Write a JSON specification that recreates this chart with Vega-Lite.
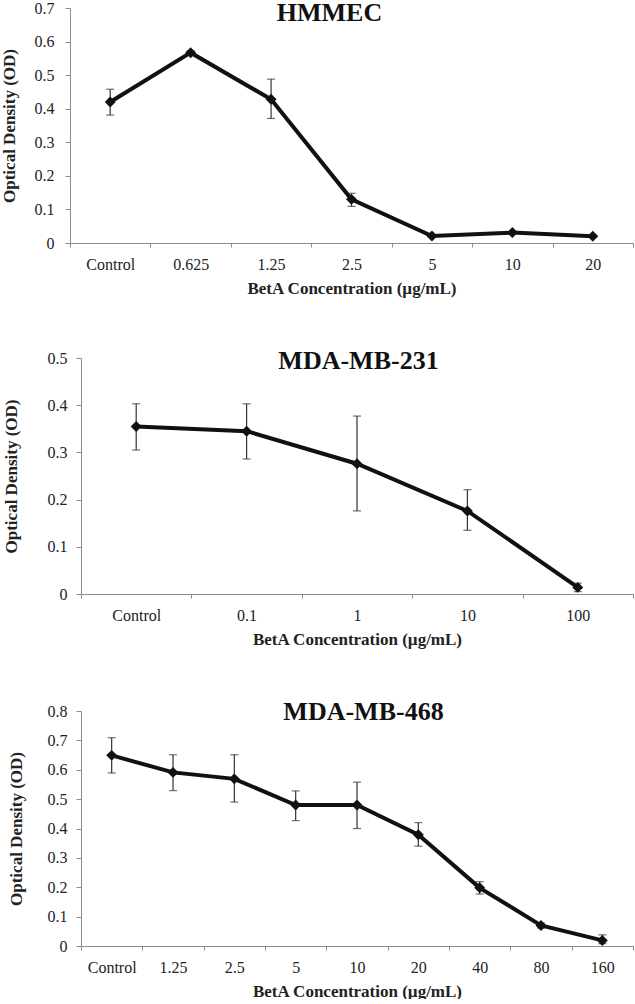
{
  "$schema": "https://vega.github.io/schema/vega-lite/v6.json",
  "background": "white",
  "padding": {"left": 0, "top": 0, "right": 0, "bottom": 0},
  "config": {
    "view": {"stroke": null},
    "font": "Liberation Serif",
    "title": {"font": "Liberation Serif", "fontSize": 26, "fontWeight": "bold", "color": "#111", "baseline": "alphabetic", "frame": "group", "anchor": "middle"}
  },
  "datasets": {
    "hmmec": [
      {"conc": "Control", "od": 0.42, "lo": 0.381, "hi": 0.458},
      {"conc": "0.625", "od": 0.567, "lo": 0.561, "hi": 0.573},
      {"conc": "1.25", "od": 0.428, "lo": 0.371, "hi": 0.488},
      {"conc": "2.5", "od": 0.13, "lo": 0.109, "hi": 0.148},
      {"conc": "5", "od": 0.021, "lo": 0.018, "hi": 0.024},
      {"conc": "10", "od": 0.031, "lo": 0.028, "hi": 0.034},
      {"conc": "20", "od": 0.02, "lo": 0.017, "hi": 0.023}
    ],
    "mb231": [
      {"conc": "Control", "od": 0.355, "lo": 0.305, "hi": 0.403},
      {"conc": "0.1", "od": 0.345, "lo": 0.286, "hi": 0.403},
      {"conc": "1", "od": 0.276, "lo": 0.176, "hi": 0.377},
      {"conc": "10", "od": 0.176, "lo": 0.135, "hi": 0.221},
      {"conc": "100", "od": 0.014, "lo": 0.005, "hi": 0.023}
    ],
    "mb468": [
      {"conc": "Control", "od": 0.649, "lo": 0.589, "hi": 0.709},
      {"conc": "1.25", "od": 0.591, "lo": 0.529, "hi": 0.651},
      {"conc": "2.5", "od": 0.569, "lo": 0.49, "hi": 0.651},
      {"conc": "5", "od": 0.48, "lo": 0.427, "hi": 0.528},
      {"conc": "10", "od": 0.48, "lo": 0.4, "hi": 0.558},
      {"conc": "20", "od": 0.379, "lo": 0.34, "hi": 0.42},
      {"conc": "40", "od": 0.198, "lo": 0.177, "hi": 0.219},
      {"conc": "80", "od": 0.07, "lo": 0.061, "hi": 0.078},
      {"conc": "160", "od": 0.019, "lo": 0.008, "hi": 0.038}
    ]
  },
  "vconcat": [
    {
      "width": 563,
      "height": 235,
      "data": {"name": "hmmec"},
      "title": {"text": "HMMEC", "offset": -26, "dx": -22},
      "encoding": {
        "x": {
          "field": "conc", "type": "ordinal", "sort": null, "bandPosition": 0.5,
          "scale": {"type": "band", "paddingInner": 0, "paddingOuter": 0},
          "axis": {"title": "BetA Concentration (µg/mL)", "labelAngle": 0, "tickBand": "extent", "tickSize": 4, "labelPadding": 9, "titlePadding": 8,
            "labelFont": "Liberation Serif", "titleFont": "Liberation Serif", "labelFontSize": 16, "titleFontSize": 17, "labelColor": "#222", "titleColor": "#222", "titleFontWeight": "bold", "domainColor": "#8c8c8c", "tickColor": "#8c8c8c", "grid": false, "labelOverlap": false}
        }
      },
      "layer": [
        {"mark": {"type": "line", "color": "#111", "strokeWidth": 4},
         "encoding": {"y": {"field": "od", "type": "quantitative",
           "scale": {"domain": [0, 0.7], "nice": false},
           "axis": {"title": "Optical Density (OD)", "values": [0, 0.1, 0.2, 0.3, 0.4, 0.5, 0.6, 0.7], "format": ".1~f", "tickSize": 5, "labelPadding": 11, "titlePadding": 16,
             "labelFont": "Liberation Serif", "titleFont": "Liberation Serif", "labelFontSize": 16, "titleFontSize": 17, "labelColor": "#222", "titleColor": "#222", "titleFontWeight": "bold", "domainColor": "#8c8c8c", "tickColor": "#8c8c8c", "grid": false, "labelOverlap": false, "labelFlush": false}}}},
        {"mark": {"type": "rule", "color": "#333", "strokeWidth": 1.2},
         "encoding": {"y": {"field": "lo", "type": "quantitative",
           "axis": {"title": "Optical Density (OD)", "values": [0, 0.1, 0.2, 0.3, 0.4, 0.5, 0.6, 0.7], "format": ".1~f", "tickSize": 5, "labelPadding": 11, "titlePadding": 16,
             "labelFont": "Liberation Serif", "titleFont": "Liberation Serif", "labelFontSize": 16, "titleFontSize": 17, "labelColor": "#222", "titleColor": "#222", "titleFontWeight": "bold", "domainColor": "#8c8c8c", "tickColor": "#8c8c8c", "grid": false, "labelOverlap": false, "labelFlush": false}}, "y2": {"field": "hi"}}},
        {"mark": {"type": "tick", "color": "#333", "size": 8, "thickness": 1.2}, "encoding": {"y": {"field": "lo", "type": "quantitative",
           "axis": {"title": "Optical Density (OD)", "values": [0, 0.1, 0.2, 0.3, 0.4, 0.5, 0.6, 0.7], "format": ".1~f", "tickSize": 5, "labelPadding": 11, "titlePadding": 16,
             "labelFont": "Liberation Serif", "titleFont": "Liberation Serif", "labelFontSize": 16, "titleFontSize": 17, "labelColor": "#222", "titleColor": "#222", "titleFontWeight": "bold", "domainColor": "#8c8c8c", "tickColor": "#8c8c8c", "grid": false, "labelOverlap": false, "labelFlush": false}}}},
        {"mark": {"type": "tick", "color": "#333", "size": 8, "thickness": 1.2}, "encoding": {"y": {"field": "hi", "type": "quantitative",
           "axis": {"title": "Optical Density (OD)", "values": [0, 0.1, 0.2, 0.3, 0.4, 0.5, 0.6, 0.7], "format": ".1~f", "tickSize": 5, "labelPadding": 11, "titlePadding": 16,
             "labelFont": "Liberation Serif", "titleFont": "Liberation Serif", "labelFontSize": 16, "titleFontSize": 17, "labelColor": "#222", "titleColor": "#222", "titleFontWeight": "bold", "domainColor": "#8c8c8c", "tickColor": "#8c8c8c", "grid": false, "labelOverlap": false, "labelFlush": false}}}},
        {"mark": {"type": "point", "shape": "diamond", "filled": true, "color": "#111", "size": 120, "opacity": 1},
         "encoding": {"y": {"field": "od", "type": "quantitative",
           "axis": {"title": "Optical Density (OD)", "values": [0, 0.1, 0.2, 0.3, 0.4, 0.5, 0.6, 0.7], "format": ".1~f", "tickSize": 5, "labelPadding": 11, "titlePadding": 16,
             "labelFont": "Liberation Serif", "titleFont": "Liberation Serif", "labelFontSize": 16, "titleFontSize": 17, "labelColor": "#222", "titleColor": "#222", "titleFontWeight": "bold", "domainColor": "#8c8c8c", "tickColor": "#8c8c8c", "grid": false, "labelOverlap": false, "labelFlush": false}}}}
      ]
    },
    {
      "width": 563,
      "height": 236,
      "data": {"name": "mb231"},
      "title": {"text": "MDA-MB-231", "offset": -24, "dx": 7},
      "encoding": {
        "x": {
          "field": "conc", "type": "ordinal", "sort": null, "bandPosition": 0.5,
          "scale": {"type": "band", "paddingInner": 0, "paddingOuter": 0, "range": [11, 563]},
          "axis": {"title": "BetA Concentration (µg/mL)", "labelAngle": 0, "tickBand": "extent", "tickSize": 4, "labelPadding": 9, "titlePadding": 8,
            "labelFont": "Liberation Serif", "titleFont": "Liberation Serif", "labelFontSize": 16, "titleFontSize": 17, "labelColor": "#222", "titleColor": "#222", "titleFontWeight": "bold", "domainColor": "#8c8c8c", "tickColor": "#8c8c8c", "grid": false, "labelOverlap": false}
        }
      },
      "layer": [
        {"mark": {"type": "line", "color": "#111", "strokeWidth": 4},
         "encoding": {"y": {"field": "od", "type": "quantitative",
           "scale": {"domain": [0, 0.5], "nice": false},
           "axis": {"title": "Optical Density (OD)", "values": [0, 0.1, 0.2, 0.3, 0.4, 0.5], "format": ".1~f", "tickSize": 5, "labelPadding": 9, "titlePadding": 27, "offset": -11,
             "labelFont": "Liberation Serif", "titleFont": "Liberation Serif", "labelFontSize": 16, "titleFontSize": 17, "labelColor": "#222", "titleColor": "#222", "titleFontWeight": "bold", "domainColor": "#8c8c8c", "tickColor": "#8c8c8c", "grid": false, "labelOverlap": false, "labelFlush": false}}}},
        {"mark": {"type": "rule", "color": "#333", "strokeWidth": 1.2},
         "encoding": {"y": {"field": "lo", "type": "quantitative",
           "axis": {"title": "Optical Density (OD)", "values": [0, 0.1, 0.2, 0.3, 0.4, 0.5], "format": ".1~f", "tickSize": 5, "labelPadding": 9, "titlePadding": 27, "offset": -11,
             "labelFont": "Liberation Serif", "titleFont": "Liberation Serif", "labelFontSize": 16, "titleFontSize": 17, "labelColor": "#222", "titleColor": "#222", "titleFontWeight": "bold", "domainColor": "#8c8c8c", "tickColor": "#8c8c8c", "grid": false, "labelOverlap": false, "labelFlush": false}}, "y2": {"field": "hi"}}},
        {"mark": {"type": "tick", "color": "#333", "size": 8, "thickness": 1.2}, "encoding": {"y": {"field": "lo", "type": "quantitative",
           "axis": {"title": "Optical Density (OD)", "values": [0, 0.1, 0.2, 0.3, 0.4, 0.5], "format": ".1~f", "tickSize": 5, "labelPadding": 9, "titlePadding": 27, "offset": -11,
             "labelFont": "Liberation Serif", "titleFont": "Liberation Serif", "labelFontSize": 16, "titleFontSize": 17, "labelColor": "#222", "titleColor": "#222", "titleFontWeight": "bold", "domainColor": "#8c8c8c", "tickColor": "#8c8c8c", "grid": false, "labelOverlap": false, "labelFlush": false}}}},
        {"mark": {"type": "tick", "color": "#333", "size": 8, "thickness": 1.2}, "encoding": {"y": {"field": "hi", "type": "quantitative",
           "axis": {"title": "Optical Density (OD)", "values": [0, 0.1, 0.2, 0.3, 0.4, 0.5], "format": ".1~f", "tickSize": 5, "labelPadding": 9, "titlePadding": 27, "offset": -11,
             "labelFont": "Liberation Serif", "titleFont": "Liberation Serif", "labelFontSize": 16, "titleFontSize": 17, "labelColor": "#222", "titleColor": "#222", "titleFontWeight": "bold", "domainColor": "#8c8c8c", "tickColor": "#8c8c8c", "grid": false, "labelOverlap": false, "labelFlush": false}}}},
        {"mark": {"type": "point", "shape": "diamond", "filled": true, "color": "#111", "size": 120, "opacity": 1},
         "encoding": {"y": {"field": "od", "type": "quantitative",
           "axis": {"title": "Optical Density (OD)", "values": [0, 0.1, 0.2, 0.3, 0.4, 0.5], "format": ".1~f", "tickSize": 5, "labelPadding": 9, "titlePadding": 27, "offset": -11,
             "labelFont": "Liberation Serif", "titleFont": "Liberation Serif", "labelFontSize": 16, "titleFontSize": 17, "labelColor": "#222", "titleColor": "#222", "titleFontWeight": "bold", "domainColor": "#8c8c8c", "tickColor": "#8c8c8c", "grid": false, "labelOverlap": false, "labelFlush": false}}}}
      ]
    },
    {
      "width": 563,
      "height": 235,
      "data": {"name": "mb468"},
      "title": {"text": "MDA-MB-468", "offset": -22, "dx": 12},
      "encoding": {
        "x": {
          "field": "conc", "type": "ordinal", "sort": null, "bandPosition": 0.5,
          "scale": {"type": "band", "paddingInner": 0, "paddingOuter": 0, "range": [11, 563]},
          "axis": {"title": "BetA Concentration (µg/mL)", "labelAngle": 0, "tickBand": "extent", "tickSize": 4, "labelPadding": 9, "titlePadding": 8,
            "labelFont": "Liberation Serif", "titleFont": "Liberation Serif", "labelFontSize": 16, "titleFontSize": 17, "labelColor": "#222", "titleColor": "#222", "titleFontWeight": "bold", "domainColor": "#8c8c8c", "tickColor": "#8c8c8c", "grid": false, "labelOverlap": false}
        }
      },
      "layer": [
        {"mark": {"type": "line", "color": "#111", "strokeWidth": 4},
         "encoding": {"y": {"field": "od", "type": "quantitative",
           "scale": {"domain": [0, 0.8], "nice": false},
           "axis": {"title": "Optical Density (OD)", "values": [0, 0.1, 0.2, 0.3, 0.4, 0.5, 0.6, 0.7, 0.8], "format": ".1~f", "tickSize": 5, "labelPadding": 9, "titlePadding": 22, "offset": -11,
             "labelFont": "Liberation Serif", "titleFont": "Liberation Serif", "labelFontSize": 16, "titleFontSize": 17, "labelColor": "#222", "titleColor": "#222", "titleFontWeight": "bold", "domainColor": "#8c8c8c", "tickColor": "#8c8c8c", "grid": false, "labelOverlap": false, "labelFlush": false}}}},
        {"mark": {"type": "rule", "color": "#333", "strokeWidth": 1.2},
         "encoding": {"y": {"field": "lo", "type": "quantitative",
           "axis": {"title": "Optical Density (OD)", "values": [0, 0.1, 0.2, 0.3, 0.4, 0.5, 0.6, 0.7, 0.8], "format": ".1~f", "tickSize": 5, "labelPadding": 9, "titlePadding": 22, "offset": -11,
             "labelFont": "Liberation Serif", "titleFont": "Liberation Serif", "labelFontSize": 16, "titleFontSize": 17, "labelColor": "#222", "titleColor": "#222", "titleFontWeight": "bold", "domainColor": "#8c8c8c", "tickColor": "#8c8c8c", "grid": false, "labelOverlap": false, "labelFlush": false}}, "y2": {"field": "hi"}}},
        {"mark": {"type": "tick", "color": "#333", "size": 8, "thickness": 1.2}, "encoding": {"y": {"field": "lo", "type": "quantitative",
           "axis": {"title": "Optical Density (OD)", "values": [0, 0.1, 0.2, 0.3, 0.4, 0.5, 0.6, 0.7, 0.8], "format": ".1~f", "tickSize": 5, "labelPadding": 9, "titlePadding": 22, "offset": -11,
             "labelFont": "Liberation Serif", "titleFont": "Liberation Serif", "labelFontSize": 16, "titleFontSize": 17, "labelColor": "#222", "titleColor": "#222", "titleFontWeight": "bold", "domainColor": "#8c8c8c", "tickColor": "#8c8c8c", "grid": false, "labelOverlap": false, "labelFlush": false}}}},
        {"mark": {"type": "tick", "color": "#333", "size": 8, "thickness": 1.2}, "encoding": {"y": {"field": "hi", "type": "quantitative",
           "axis": {"title": "Optical Density (OD)", "values": [0, 0.1, 0.2, 0.3, 0.4, 0.5, 0.6, 0.7, 0.8], "format": ".1~f", "tickSize": 5, "labelPadding": 9, "titlePadding": 22, "offset": -11,
             "labelFont": "Liberation Serif", "titleFont": "Liberation Serif", "labelFontSize": 16, "titleFontSize": 17, "labelColor": "#222", "titleColor": "#222", "titleFontWeight": "bold", "domainColor": "#8c8c8c", "tickColor": "#8c8c8c", "grid": false, "labelOverlap": false, "labelFlush": false}}}},
        {"mark": {"type": "point", "shape": "diamond", "filled": true, "color": "#111", "size": 120, "opacity": 1},
         "encoding": {"y": {"field": "od", "type": "quantitative",
           "axis": {"title": "Optical Density (OD)", "values": [0, 0.1, 0.2, 0.3, 0.4, 0.5, 0.6, 0.7, 0.8], "format": ".1~f", "tickSize": 5, "labelPadding": 9, "titlePadding": 22, "offset": -11,
             "labelFont": "Liberation Serif", "titleFont": "Liberation Serif", "labelFontSize": 16, "titleFontSize": 17, "labelColor": "#222", "titleColor": "#222", "titleFontWeight": "bold", "domainColor": "#8c8c8c", "tickColor": "#8c8c8c", "grid": false, "labelOverlap": false, "labelFlush": false}}}}
      ]
    }
  ],
  "spacing": 52
}
